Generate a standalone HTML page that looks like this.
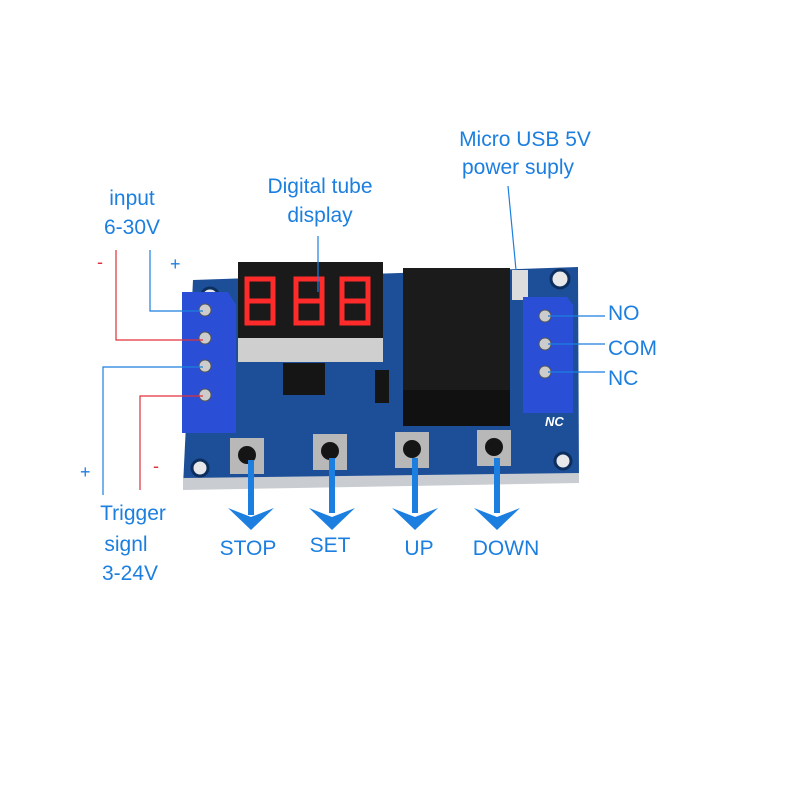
<!DOCTYPE html>
<html><head><style>
html,body{margin:0;padding:0;background:#fff;}
svg{display:block}
text{font-family:"Liberation Sans","DejaVu Sans",sans-serif;fill:#1c7fe0;}
</style></head><body>
<svg width="800" height="800" viewBox="0 0 800 800" xmlns="http://www.w3.org/2000/svg">
<rect width="800" height="800" fill="#fff"/>
<!-- board -->
<polygon points="193,280 578,267 579,481 183,486" fill="#1d4f98"/>
<polygon points="183,478 579,473 579,483 183,490" fill="#c9ccd0"/>
<circle cx="210" cy="297" r="9" fill="#e8e8ea" stroke="#0d2f60" stroke-width="3"/>
<circle cx="560" cy="279" r="9" fill="#e8e8ea" stroke="#0d2f60" stroke-width="3"/>
<circle cx="200" cy="468" r="8" fill="#e8e8ea" stroke="#0d2f60" stroke-width="3"/>
<circle cx="563" cy="461" r="8" fill="#e8e8ea" stroke="#0d2f60" stroke-width="3"/>
<!-- display -->
<rect x="238" y="262" width="145" height="76" fill="#1a1a1a"/>
<rect x="238" y="338" width="145" height="24" fill="#cfcfcf"/>
<g fill="none" stroke="#ff2a2a" stroke-width="5">
<path d="M247 279h26v44h-26zM247 301h26"/>
<path d="M296 279h26v44h-26zM296 301h26"/>
<path d="M342 279h26v44h-26zM342 301h26"/>
</g>
<!-- relay -->
<rect x="403" y="268" width="107" height="158" fill="#1b1b1b"/>
<rect x="403" y="390" width="107" height="36" fill="#111"/>
<!-- chip -->
<rect x="283" y="363" width="42" height="32" fill="#151515"/>
<rect x="375" y="370" width="14" height="33" fill="#151515"/>
<!-- usb -->
<rect x="512" y="270" width="16" height="30" fill="#ddd"/>
<!-- left terminal -->
<polygon points="182,292 228,292 236,305 236,433 182,433" fill="#2a4fd6"/>
<g fill="#ccc" stroke="#555" stroke-width="1">
<circle cx="205" cy="310" r="6"/><circle cx="205" cy="338" r="6"/><circle cx="205" cy="366" r="6"/><circle cx="205" cy="395" r="6"/></g>
<!-- right terminal -->
<polygon points="523,297 567,297 573,305 573,413 523,413" fill="#2a4fd6"/>
<g fill="#ccc" stroke="#555" stroke-width="1">
<circle cx="545" cy="316" r="6"/><circle cx="545" cy="344" r="6"/><circle cx="545" cy="372" r="6"/></g>
<text x="545" y="426" style="fill:#fff;font-size:13px;font-weight:bold;font-style:italic">NC</text>
<!-- buttons -->
<g>
<rect x="230" y="438" width="34" height="36" fill="#b8b8b8"/><circle cx="247" cy="455" r="9" fill="#151515"/>
<rect x="313" y="434" width="34" height="36" fill="#b8b8b8"/><circle cx="330" cy="451" r="9" fill="#151515"/>
<rect x="395" y="432" width="34" height="36" fill="#b8b8b8"/><circle cx="412" cy="449" r="9" fill="#151515"/>
<rect x="477" y="430" width="34" height="36" fill="#b8b8b8"/><circle cx="494" cy="447" r="9" fill="#151515"/>
</g>
<!-- arrows -->
<g fill="#1c7fe0" stroke="none">
<rect x="248" y="460" width="6" height="55"/><polygon points="228,508 251,517 274,508 251,530"/>
<rect x="329" y="458" width="6" height="55"/><polygon points="309,508 332,517 355,508 332,530"/>
<rect x="412" y="458" width="6" height="55"/><polygon points="392,508 415,517 438,508 415,530"/>
<rect x="494" y="458" width="6" height="55"/><polygon points="474,508 497,517 520,508 497,530"/>
</g>
<!-- leader lines -->
<g fill="none" stroke-width="1.2">
<path d="M116 250V340H203" stroke="#e0303a"/>
<path d="M150 250V311H203" stroke="#1c7fe0"/>
<path d="M103 495V367H203" stroke="#1c7fe0"/>
<path d="M140 490V396H203" stroke="#e0303a"/>
<path d="M318 236V292" stroke="#1c7fe0"/>
<path d="M508 186L516 270" stroke="#1c7fe0"/>
<path d="M548 316H605M548 344H605M548 372H605" stroke="#1c7fe0"/>
</g>
<!-- labels -->
<g style="font-size:21px" text-anchor="middle">
<text x="132" y="205">input</text>
<text x="132" y="234">6-30V</text>
<text x="320" y="193">Digital tube</text>
<text x="320" y="222">display</text>
<text x="525" y="146">Micro USB 5V</text>
<text x="518" y="174">power suply</text>
<text x="133" y="520">Trigger</text>
<text x="126" y="551">signl</text>
<text x="130" y="580">3-24V</text>
<text x="248" y="555">STOP</text>
<text x="330" y="552">SET</text>
<text x="419" y="555">UP</text>
<text x="506" y="555">DOWN</text>
</g>
<g style="font-size:21px">
<text x="608" y="320">NO</text>
<text x="608" y="355">COM</text>
<text x="608" y="385">NC</text>
</g>
<text x="97" y="268" style="font-size:18px;fill:#e0303a">-</text>
<text x="170" y="270" style="font-size:18px">+</text>
<text x="80" y="478" style="font-size:18px">+</text>
<text x="153" y="472" style="font-size:18px;fill:#e0303a">-</text>
</svg>
</body></html>
